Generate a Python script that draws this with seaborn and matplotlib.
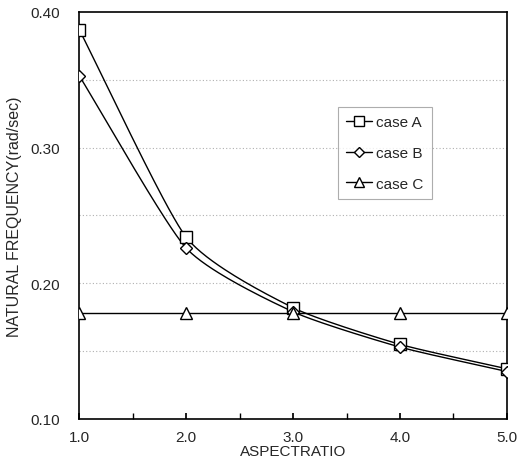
import numpy as np
import pandas as pd
import matplotlib
matplotlib.use("Agg")
import matplotlib.pyplot as plt
import seaborn as sns
from matplotlib.lines import Line2D

aspect_ratio = [1.0, 2.0, 3.0, 4.0, 5.0]
case_a = [0.387, 0.234, 0.182, 0.155, 0.137]
case_b = [0.353, 0.226, 0.179, 0.153, 0.135]
case_c = [0.178, 0.178, 0.178, 0.178, 0.178]
series_names = ["case A", "case B", "case C"]
x_ticks = [1.0, 2.0, 3.0, 4.0, 5.0]
y_ticks = [0.10, 0.20, 0.30, 0.40]

sns.set_theme(style="white")
plt.rcParams["font.family"] = ["Liberation Sans", "DejaVu Sans"]

df = pd.DataFrame({
    "x": aspect_ratio * 3,
    "y": case_a + case_b + case_c,
    "case": sum([[n] * len(aspect_ratio) for n in series_names], []),
})


def smooth(xs, ys, n=40, s=0.3):
    # cubic Hermite smoothing through the data points (rendering of a smoothed line)
    p = np.column_stack([np.asarray(xs, float), np.asarray(ys, float)])
    m = np.zeros_like(p)
    m[1:-1] = s * (p[2:] - p[:-2])
    m[0] = (p[1] - p[0]) * 0.6
    m[-1] = (p[-1] - p[-2]) * 0.6
    t = np.linspace(0, 1, n)[:, None]
    h00 = 2 * t ** 3 - 3 * t ** 2 + 1
    h10 = t ** 3 - 2 * t ** 2 + t
    h01 = -2 * t ** 3 + 3 * t ** 2
    h11 = t ** 3 - t ** 2
    out = []
    for i in range(len(p) - 1):
        out.append(h00 * p[i] + h10 * m[i] + h01 * p[i + 1] + h11 * m[i + 1])
    out = np.vstack(out)
    return out[:, 0], out[:, 1]


fig = plt.figure(figsize=(5.21, 4.77), dpi=100)
ax = fig.add_axes([0.152, 0.1195, 0.821, 0.8535])

markers = {"case A": "s", "case B": "D", "case C": "^"}
msizes = {"case A": 8, "case B": 6, "case C": 8}

for name in series_names:
    sub = df[df["case"] == name]
    if name == "case C":
        lx, ly = sub["x"].values, sub["y"].values
    else:
        lx, ly = smooth(sub["x"].values, sub["y"].values)
    sns.lineplot(x=lx, y=ly, ax=ax, color="black", lw=1.0, sort=False, legend=False)
    sns.lineplot(x=sub["x"].values, y=sub["y"].values, ax=ax, color="black", lw=0,
                 marker=markers[name], markersize=msizes[name], markerfacecolor="white",
                 markeredgecolor="black", markeredgewidth=1.0, legend=False, zorder=5)

handles = [Line2D([0], [0], color="black", lw=1.0, marker=markers[n], markersize=msizes[n] - 1,
                  markerfacecolor="white", markeredgecolor="black") for n in series_names]
leg = ax.legend(handles, series_names, loc="upper left", bbox_to_anchor=(0.605, 0.767),
                frameon=True, fancybox=False, fontsize=11, handlelength=1.7,
                handletextpad=0.25, labelspacing=1.1, borderpad=0.55, borderaxespad=0)
leg.get_frame().set_edgecolor("#999999")
leg.get_frame().set_linewidth(0.8)

for gy in [0.15, 0.20, 0.25, 0.30, 0.35]:
    ax.axhline(gy, color="#b0b0b0", lw=0.8, ls=(0, (1, 2)), zorder=0)

ax.set_xlim(1.0, 5.0)
ax.set_ylim(0.10, 0.40)
ax.set_xticks(x_ticks)
ax.set_xticklabels([f"{v:.1f}" for v in x_ticks], fontsize=11)
ax.set_xticks([1.5, 2.5, 3.5, 4.5], minor=True)
ax.set_yticks(y_ticks)
ax.set_yticklabels([f"{v:.2f}" for v in y_ticks], fontsize=11)
ax.tick_params(axis="x", which="both", direction="in", length=4, bottom=True, color="black", pad=8)
ax.tick_params(axis="y", which="both", left=False, pad=8)
ax.set_xlabel("ASPECTRATIO", fontsize=11, labelpad=0)
ax.set_ylabel("NATURAL FREQUENCY(rad/sec)", fontsize=11.5, labelpad=6)
for s in ax.spines.values():
    s.set_color("black")
    s.set_linewidth(1.2)

fig.savefig("out.png", dpi=100)
